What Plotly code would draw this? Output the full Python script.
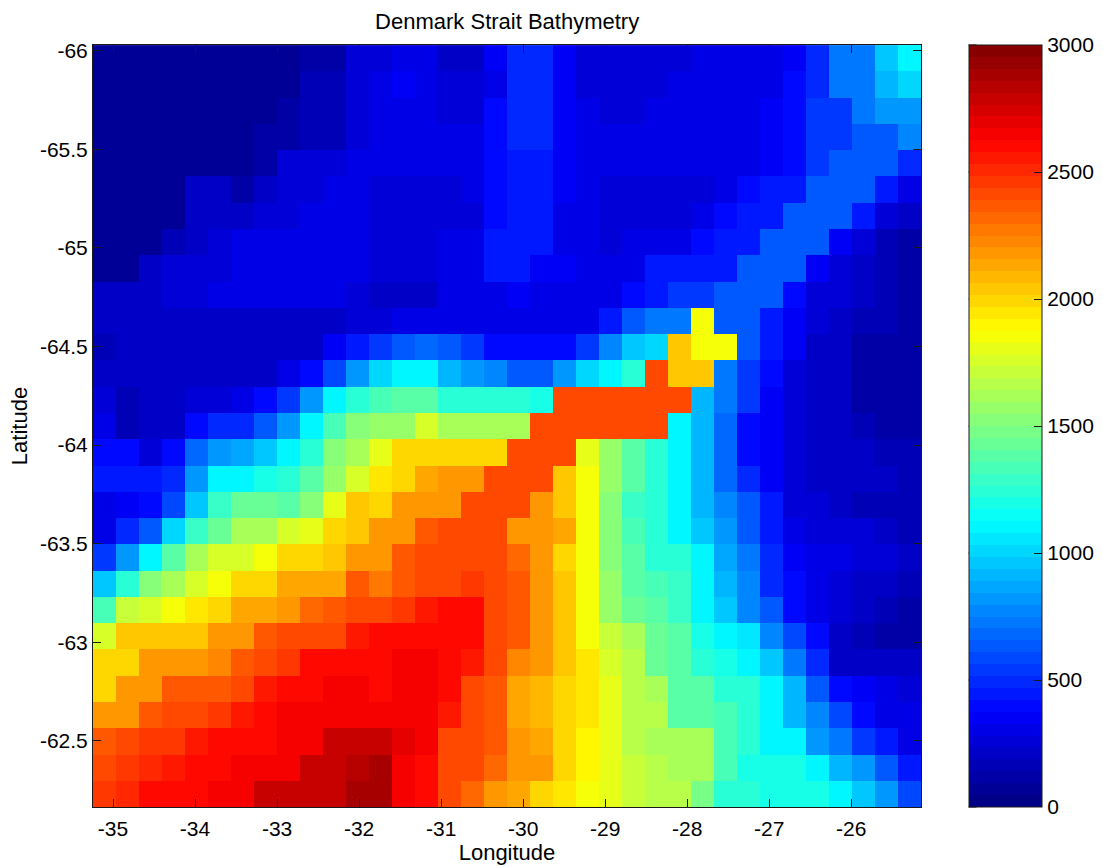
import plotly.graph_objects as go

title = "Denmark Strait Bathymetry"
x_title = "Longitude"
y_title = "Latitude"
x_ticks = [-35, -34, -33, -32, -31, -30, -29, -28, -27, -26]
x_tick_text = ["-35", "-34", "-33", "-32", "-31", "-30", "-29", "-28", "-27", "-26"]
y_ticks = [-66, -65.5, -65, -64.5, -64, -63.5, -63, -62.5]
y_tick_text = ["-66", "-65.5", "-65", "-64.5", "-64", "-63.5", "-63", "-62.5"]
bar_ticks = [0, 500, 1000, 1500, 2000, 2500, 3000]

# Depth (m), one row per latitude (north-most label -66 first), one value per longitude
depth = [
[60,60,60,60,60,60,60,60,60,100,130,250,270,300,300,200,200,330,470,470,340,240,240,260,260,270,290,290,290,300,350,500,720,740,960,1100],
[50,50,50,50,50,50,50,50,50,150,150,270,300,330,300,270,280,320,470,470,340,280,280,280,270,290,290,290,290,300,410,510,720,740,910,1000],
[50,50,50,50,50,50,50,60,120,170,170,280,290,300,290,280,280,400,470,470,340,290,240,240,290,290,290,290,290,340,420,520,530,730,830,830],
[50,50,50,50,50,50,50,130,130,160,180,280,290,290,290,290,290,400,470,470,340,300,290,290,290,290,290,290,290,340,420,530,530,620,620,780],
[50,50,50,50,50,50,50,120,250,260,270,290,290,290,290,290,290,400,460,460,330,300,290,290,290,290,290,290,300,340,420,530,620,620,620,470],
[50,50,50,50,200,200,120,220,270,280,290,290,260,260,260,280,290,400,460,450,330,290,280,280,270,270,280,320,380,430,440,640,640,640,430,320],
[50,50,50,50,210,230,230,240,280,290,290,290,260,260,260,240,260,400,460,450,320,290,240,240,270,280,290,380,430,440,640,640,640,430,280,210],
[50,50,80,180,230,270,290,290,290,290,290,290,270,270,270,300,320,450,460,440,320,290,270,320,300,310,380,430,440,630,640,640,370,280,160,130],
[60,60,210,240,250,280,290,290,290,290,290,290,270,270,280,300,320,430,440,350,330,300,300,320,430,430,430,450,630,630,630,340,260,200,150,130],
[190,190,200,250,270,290,290,290,290,290,290,280,200,200,200,290,290,320,330,310,300,300,300,420,440,540,540,620,630,630,420,270,240,190,150,130],
[230,230,230,230,230,230,230,230,190,190,190,260,270,300,300,310,310,310,300,290,290,300,450,650,720,720,1850,640,640,430,340,250,220,180,160,140],
[150,200,200,200,200,200,200,200,200,190,340,430,520,620,660,610,520,380,380,380,420,540,760,950,1000,2040,1850,1850,620,430,340,220,200,120,100,100],
[220,220,190,190,200,200,200,210,320,400,580,820,1000,1100,1100,930,830,780,650,650,820,1000,1100,1260,2420,2040,2040,720,540,400,260,220,200,130,110,100],
[240,150,190,210,270,280,290,400,560,820,1100,1250,1350,1360,1360,1250,1220,1220,1220,1210,2420,2420,2420,2420,2420,2420,930,720,530,340,250,220,200,130,120,120],
[310,160,200,230,420,500,500,640,800,1090,1320,1500,1560,1580,1770,1630,1600,1600,1600,2420,2420,2420,2420,2420,2420,1100,930,700,400,340,250,210,200,180,130,120],
[420,400,270,420,670,800,860,950,1100,1260,1500,1600,1800,1990,2000,2000,2000,1980,2420,2420,2420,1800,1570,1380,1240,1100,930,700,400,340,250,220,190,190,180,160],
[450,440,430,500,810,1090,1100,1200,1230,1390,1560,1750,1960,2000,2130,2170,2170,2420,2420,2420,2020,1860,1560,1360,1230,1100,930,690,500,340,250,230,200,200,190,180],
[310,360,400,580,980,1300,1420,1420,1400,1510,1800,2050,2000,2160,2170,2200,2420,2420,2420,2170,2030,1860,1540,1300,1230,1100,920,790,640,450,270,240,210,180,180,170],
[320,480,640,1000,1280,1430,1620,1630,1770,1800,2000,2060,2180,2200,2350,2410,2420,2420,2180,2170,2120,1860,1530,1340,1240,1080,980,800,650,450,300,280,250,240,230,180],
[530,820,1100,1380,1640,1740,1780,1850,1980,1990,2060,2200,2200,2360,2420,2420,2420,2420,2340,2180,1990,1860,1530,1360,1260,1250,1100,850,720,500,340,320,300,280,270,230],
[980,1240,1500,1600,1760,1840,1970,2000,2130,2140,2150,2380,2250,2390,2400,2410,2450,2420,2350,2180,2020,1860,1550,1400,1320,1300,1100,930,770,490,420,290,260,230,200,170],
[1340,1710,1740,1830,1960,2000,2120,2140,2170,2340,2380,2420,2400,2480,2560,2590,2590,2420,2350,2180,2020,1860,1570,1450,1360,1300,1110,940,770,620,400,290,240,190,170,140],
[1760,2020,2030,2030,2030,2190,2200,2380,2420,2420,2430,2540,2580,2590,2590,2590,2590,2420,2350,2180,2020,1860,1700,1620,1410,1360,1200,1100,1050,790,580,380,220,150,120,120],
[1970,2000,2160,2160,2160,2220,2370,2420,2440,2590,2590,2600,2620,2640,2640,2600,2540,2420,2220,2190,2020,1930,1780,1650,1410,1360,1260,1200,1100,960,740,470,230,200,200,230],
[1980,2170,2170,2370,2380,2380,2420,2560,2590,2600,2640,2650,2620,2650,2650,2600,2420,2350,2120,2100,2000,1950,1790,1650,1630,1400,1400,1240,1240,1120,900,650,400,330,300,260],
[2180,2200,2380,2420,2420,2480,2560,2600,2630,2640,2650,2650,2630,2650,2650,2570,2420,2350,2120,2100,2000,1950,1790,1660,1650,1400,1400,1330,1240,1110,920,790,600,400,320,300],
[2380,2420,2440,2450,2560,2600,2610,2620,2630,2640,2780,2790,2800,2680,2650,2420,2400,2350,2200,2110,2000,1880,1790,1680,1640,1620,1600,1340,1240,1100,1100,820,720,530,440,290],
[2400,2450,2500,2570,2610,2620,2630,2640,2650,2770,2780,2830,2870,2660,2610,2420,2400,2340,2200,2170,2000,1880,1790,1700,1660,1630,1600,1350,1200,1200,1200,1100,920,800,620,430],
[2450,2490,2590,2600,2610,2660,2660,2780,2790,2790,2800,2870,2900,2650,2610,2420,2330,2180,2130,1970,1940,1850,1790,1700,1680,1650,1480,1250,1220,1210,1210,1200,1100,980,800,600],
]

# Grid cell centres
longitudes = [round(-35.104 + 0.2804 * i, 3) for i in range(36)]
latitudes = [round(-65.962 + 0.13327 * j, 3) for j in range(29)]


def jet64():
    """MATLAB's 64-level jet colour map as a stepped Plotly colour scale."""
    def ramp(t, centre):
        return max(0.0, min(1.0, 1.5 - abs(4 * t - centre)))
    scale = []
    for i in range(64):
        t = (i + 0.5) / 64
        r = int(round(255 * ramp(t, 3)))
        g = int(round(255 * ramp(t, 2)))
        b = int(round(255 * ramp(t, 1)))
        c = f"rgb({r},{g},{b})"
        scale += [[i / 64, c], [(i + 1) / 64, c]]
    return scale


FONT = "Liberation Sans, Arial, Helvetica, sans-serif"
INK = "#1a1a1a"
W, H = 1103, 867
L, R, T, B = 93.3, 921.0, 45.0, 807.0
FS = 21
FT = 22

fig = go.Figure(go.Heatmap(
    x=longitudes, y=latitudes, z=depth,
    zmin=0, zmax=3000, colorscale=jet64(),
    colorbar=dict(
        thicknessmode="pixels", thickness=73,
        lenmode="fraction", len=1,
        x=(968.5 - L) / (R - L), xanchor="left",
        y=0, yanchor="bottom",
        xpad=0, ypad=0,
        outlinecolor=INK, outlinewidth=1,
        tickmode="array", tickvals=bar_ticks,
        ticks="inside", ticklen=8, tickwidth=1, tickcolor=INK,
        tickfont=dict(family=FONT, size=FS, color="#000"),
    ),
))

axis = dict(showgrid=False, zeroline=False, ticks="inside", ticklen=8, tickwidth=1,
            tickcolor=INK, linecolor=INK, linewidth=1, mirror="ticks",
            tickfont=dict(family=FONT, size=FS, color="#000"))

fig.update_xaxes(range=[-35.244, -25.15], tickmode="array", tickvals=x_ticks, ticktext=x_tick_text,
                 ticklabelstandoff=3,
                 title=dict(text=x_title, font=dict(family=FONT, size=FT, color="#000"), standoff=4),
                 **axis)
fig.update_yaxes(range=[-62.165, -66.029], tickmode="array", tickvals=y_ticks, ticktext=y_tick_text,
                 title=dict(text=y_title, font=dict(family=FONT, size=FT, color="#000"), standoff=6),
                 **axis)

# Left-hand tick marks of the colour bar (the library only draws them on the right)
for v in bar_ticks:
    fig.add_shape(type="line", xref="paper", yref="paper", layer="above",
                  x0=(968.5 - L) / (R - L), x1=(976.5 - L) / (R - L),
                  y0=v / 3000, y1=v / 3000, line=dict(color=INK, width=1))

fig.update_layout(
    width=W, height=H, autosize=False,
    margin=dict(l=L, r=W - R, t=T, b=H - B, pad=0, autoexpand=False),
    paper_bgcolor="white", plot_bgcolor="white",
    title=dict(text=title, font=dict(family=FONT, size=FT, color="#000"),
               x=(L + R) / 2 / W, xanchor="center", y=1 - 21 / H, yanchor="middle"),
)

fig.write_html("out.html", config={"displayModeBar": False},
               post_script="document.body.style.margin='0';")
